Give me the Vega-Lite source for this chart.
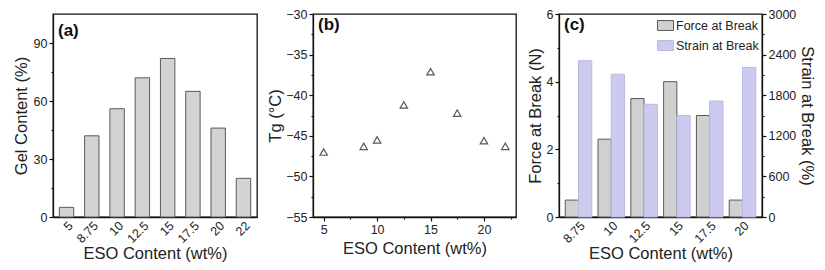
{
  "$schema": "https://vega.github.io/schema/vega-lite/v6.json",
  "background": "white",
  "padding": {"left": 12, "top": 7, "right": 2, "bottom": 2},
  "spacing": 9,
  "resolve": {"scale": {"color": "independent", "stroke": "independent"}, "legend": {"color": "independent", "stroke": "independent"}},
  "config": {
    "font": "Liberation Sans",
    "view": {"stroke": "#111", "strokeWidth": 1.3},
    "axis": {
      "labelFont": "Liberation Sans", "labelFontSize": 12.5, "labelColor": "#222",
      "titleFont": "Liberation Sans", "titleFontSize": 16.5, "titleFontWeight": "normal", "titleColor": "#222",
      "domainColor": "#111", "domainWidth": 1.3, "tickColor": "#111", "tickWidth": 1.2, "grid": false, "labelPadding": 2, "titlePadding": 4
    },
    "title": {"font": "Liberation Sans", "fontSize": 17, "fontWeight": "bold", "color": "#111", "anchor": "start", "frame": "group"}
  },
  "datasets": {
    "gel": [
      {"eso": "5", "gel": 5}, {"eso": "8.75", "gel": 42}, {"eso": "10", "gel": 56}, {"eso": "12.5", "gel": 72},
      {"eso": "15", "gel": 82}, {"eso": "17.5", "gel": 65}, {"eso": "20", "gel": 46}, {"eso": "22", "gel": 20}
    ],
    "tg": [
      {"eso": 5, "tg": -47.0}, {"eso": 8.75, "tg": -46.3}, {"eso": 10, "tg": -45.5}, {"eso": 12.5, "tg": -41.2},
      {"eso": 15, "tg": -37.1}, {"eso": 17.5, "tg": -42.2}, {"eso": 20, "tg": -45.6}, {"eso": 22, "tg": -46.3}
    ],
    "force": [
      {"eso": "8.75", "series": "Force at Break", "value": 0.5}, {"eso": "10", "series": "Force at Break", "value": 2.3},
      {"eso": "12.5", "series": "Force at Break", "value": 3.5}, {"eso": "15", "series": "Force at Break", "value": 4.0},
      {"eso": "17.5", "series": "Force at Break", "value": 3.0}, {"eso": "20", "series": "Force at Break", "value": 0.5}
    ],
    "strain": [
      {"eso": "8.75", "series": "Strain at Break", "value": 2310}, {"eso": "10", "series": "Strain at Break", "value": 2110},
      {"eso": "12.5", "series": "Strain at Break", "value": 1665}, {"eso": "15", "series": "Strain at Break", "value": 1500},
      {"eso": "17.5", "series": "Strain at Break", "value": 1715}, {"eso": "20", "series": "Strain at Break", "value": 2210}
    ]
  },
  "hconcat": [
    {
      "width": 204, "height": 203,
      "title": {"text": "(a)", "offset": -26, "dx": 5},
      "data": {"name": "gel"},
      "mark": {"type": "bar", "fill": "#d3d3d3", "stroke": "#5a5a5a", "strokeWidth": 1},
      "encoding": {
        "x": {"field": "eso", "type": "nominal", "sort": null,
              "scale": {"paddingInner": 0.43, "paddingOuter": 0.25},
              "axis": {"title": "ESO Content (wt%)", "labelAngle": -45, "ticks": false, "labelPadding": 2, "titlePadding": 0}},
        "y": {"field": "gel", "type": "quantitative", "scale": {"domain": [0, 105], "nice": false},
              "axis": {"title": "Gel Content (%)", "values": [0, 15, 30, 45, 60, 75, 90],
                       "labelExpr": "datum.value % 30 === 0 ? datum.label : ''",
                       "tickSize": {"condition": {"test": "datum.value % 30 === 0", "value": 4}, "value": 2}}}
      }
    },
    {
      "width": 203, "height": 203,
      "title": {"text": "(b)", "offset": -26, "dx": 5},
      "data": {"name": "tg"},
      "mark": {"type": "point", "shape": "triangle-up", "filled": false, "stroke": "#111", "strokeWidth": 1.2, "size": 55},
      "encoding": {
        "x": {"field": "eso", "type": "quantitative", "scale": {"domain": [4, 23], "nice": false, "zero": false},
              "axis": {"title": "ESO Content (wt%)", "values": [5, 7.5, 10, 12.5, 15, 17.5, 20, 22.5],
                       "labelExpr": "datum.value % 5 === 0 ? datum.label : ''",
                       "tickSize": {"condition": {"test": "datum.value % 5 === 0", "value": 4}, "value": 2},
                       "labelPadding": 2, "titlePadding": 5}},
        "y": {"field": "tg", "type": "quantitative", "scale": {"domain": [-55, -30], "nice": false, "zero": false},
              "axis": {"title": "Tg (°C)", "values": [-55, -52.5, -50, -47.5, -45, -42.5, -40, -37.5, -35, -32.5, -30],
                       "labelExpr": "datum.value % 5 === 0 ? datum.label : ''",
                       "tickSize": {"condition": {"test": "datum.value % 5 === 0", "value": 4}, "value": 2},
                       "titlePadding": 2}}
      }
    },
    {
      "width": 203, "height": 203,
      "title": {"text": "(c)", "offset": -26, "dx": 5},
      "layer": [
        {
          "data": {"name": "force"},
          "mark": {"type": "bar", "strokeWidth": 1},
          "encoding": {
            "x": {"field": "eso", "type": "nominal",
                  "scale": {"domain": ["8.75", "10", "12.5", "15", "17.5", "20"], "paddingInner": 0.19, "paddingOuter": 0.19},
                  "axis": {"title": "ESO Content (wt%)", "labelAngle": -45, "ticks": false, "labelPadding": 2, "titlePadding": 0}},
            "xOffset": {"field": "series", "type": "nominal", "scale": {"domain": ["Force at Break", "Strain at Break"], "paddingInner": 0, "paddingOuter": 0}},
            "y": {"field": "value", "type": "quantitative", "scale": {"domain": [0, 6], "nice": false},
                  "axis": {"title": "Force at Break (N)", "orient": "left", "values": [0, 1, 2, 3, 4, 5, 6],
                           "labelExpr": "datum.value % 2 === 0 ? datum.label : ''",
                           "tickSize": {"condition": {"test": "datum.value % 2 === 0", "value": 4}, "value": 2},
                           "titlePadding": 3}},
            "color": {"field": "series", "type": "nominal",
                      "scale": {"domain": ["Force at Break", "Strain at Break"], "range": ["#d0d0d0", "#cbcbef"]},
                      "legend": {"orient": "top-right", "title": null, "offset": 3, "padding": 0, "labelFont": "Liberation Sans", "labelFontSize": 12.5, "labelColor": "#222",
                                 "symbolType": "M-1,-0.62H1V0.62H-1Z", "symbolSize": 256, "rowPadding": 4, "labelOffset": 2, "symbolStrokeWidth": 1}},
            "stroke": {"field": "series", "type": "nominal",
                       "scale": {"domain": ["Force at Break", "Strain at Break"], "range": ["#5a5a5a", "#b9b9e3"]}}
          }
        },
        {
          "data": {"name": "strain"},
          "mark": {"type": "bar", "strokeWidth": 1},
          "encoding": {
            "x": {"field": "eso", "type": "nominal"},
            "xOffset": {"field": "series", "type": "nominal"},
            "y": {"field": "value", "type": "quantitative", "scale": {"domain": [0, 3000], "nice": false},
                  "axis": {"title": "Strain at Break (%)", "orient": "right", "values": [0, 300, 600, 900, 1200, 1500, 1800, 2100, 2400, 2700, 3000],
                           "labelExpr": "datum.value % 600 === 0 ? datum.label : ''",
                           "tickSize": {"condition": {"test": "datum.value % 600 === 0", "value": 4}, "value": 2},
                           "format": "d", "titlePadding": 3}},
            "color": {"field": "series", "type": "nominal"},
            "stroke": {"field": "series", "type": "nominal"}
          }
        }
      ],
      "resolve": {"scale": {"y": "independent"}}
    }
  ]
}
